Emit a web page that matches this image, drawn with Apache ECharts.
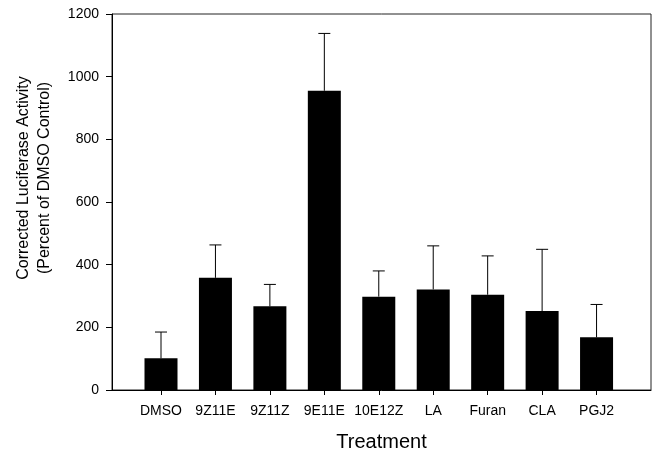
<!DOCTYPE html>
<html>
<head>
<meta charset="utf-8">
<script src="https://cdn.jsdelivr.net/npm/echarts@6/dist/echarts.min.js"></script>
<style>
html,body{margin:0;padding:0;background:#fff;}
#chart{width:657px;height:453px;}
</style>
</head>
<body>
<div id="chart"></div>
<script>
const categories = ["DMSO", "9Z11E", "9Z11Z", "9E11E", "10E12Z", "LA", "Furan", "CLA", "PGJ2"];
const means = [101, 358, 267, 955, 298, 321, 304, 252, 168];
const errors = [84, 105, 70, 183, 82, 139, 124, 197, 105];
const yTicks = [0, 200, 400, 600, 800, 1000, 1200];
const positions = categories.map((c, i) => i + 1);

const chart = echarts.init(document.getElementById('chart'));
const FONT = '"Liberation Sans", Arial, sans-serif';

chart.setOption({
  animation: false,
  backgroundColor: '#fff',
  grid: {
    left: 112, top: 14, right: 6, bottom: 63,
    containLabel: false, outerBoundsMode: 'none',
    show: true, borderColor: '#222', borderWidth: 1, backgroundColor: 'transparent'
  },
  xAxis: {
    type: 'value', min: 0.1, max: 10,
    splitLine: { show: false },
    axisLine: { show: true, lineStyle: { color: '#000', width: 1 } },
    axisTick: { show: true, length: 5, customValues: positions, lineStyle: { color: '#000' } },
    axisLabel: {
      show: true, customValues: positions, margin: 14,
      fontFamily: FONT, fontSize: 14, color: '#000',
      formatter: v => categories[Math.round(v) - 1] || ''
    },
    name: 'Treatment', nameLocation: 'middle', nameGap: 42,
    nameTextStyle: { fontFamily: FONT, fontSize: 20, color: '#000' }
  },
  yAxis: {
    type: 'value', min: yTicks[0], max: yTicks[yTicks.length - 1], interval: 200,
    splitLine: { show: false },
    axisLine: { show: true, lineStyle: { color: '#000', width: 1 } },
    axisTick: { show: true, length: 6, lineStyle: { color: '#000' } },
    axisLabel: { fontFamily: FONT, fontSize: 14, color: '#000', margin: 13, formatter: v => String(v) }
  },
  graphic: [{
    type: 'text', x: 34, y: 178, rotation: Math.PI / 2,
    style: {
      text: 'Corrected Luciferase Activity\n(Percent of DMSO Control)',
      font: '16px ' + FONT, fill: '#000', align: 'center', verticalAlign: 'middle', lineHeight: 21
    }
  }],
  series: [{
    type: 'bar',
    data: positions.map((p, i) => [p, means[i]]),
    barWidth: 33,
    itemStyle: { color: '#000' }
  }, {
    type: 'custom',
    data: positions.map((p, i) => [p, means[i], means[i] + errors[i]]),
    renderItem: function (params, api) {
      const x = api.value(0);
      const b = api.coord([x, api.value(1)]);
      const t = api.coord([x, api.value(2)]);
      const hw = 6;
      return {
        type: 'group',
        children: [
          { type: 'line', shape: { x1: b[0], y1: b[1], x2: t[0], y2: t[1] }, style: { stroke: '#000', lineWidth: 1 } },
          { type: 'line', shape: { x1: t[0] - hw, y1: t[1], x2: t[0] + hw, y2: t[1] }, style: { stroke: '#000', lineWidth: 1 } }
        ]
      };
    },
    z: 1
  }]
});
</script>
</body>
</html>
